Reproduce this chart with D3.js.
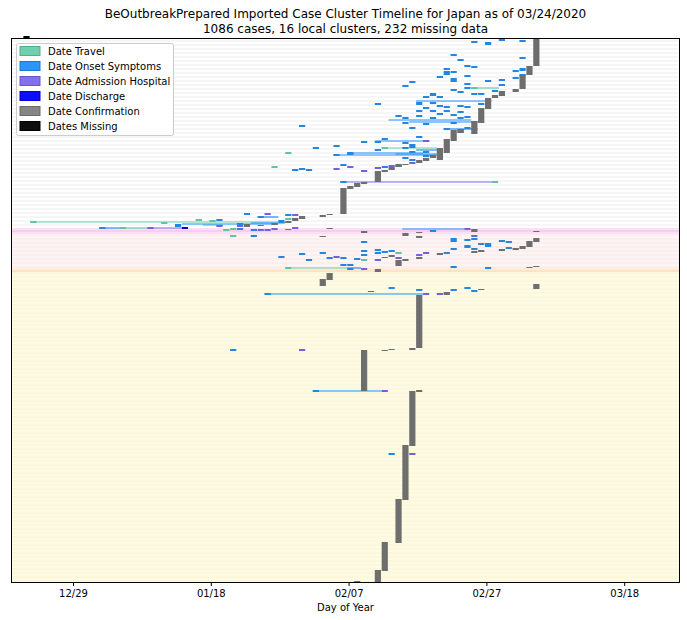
<!DOCTYPE html>
<html><head><meta charset="utf-8">
<script src="https://cdn.jsdelivr.net/npm/d3@7"></script>
<style>body{margin:0;background:#fff;} text{font-family:"DejaVu Sans",sans-serif;fill:#000;}</style>
</head><body><svg id="c" width="687" height="620"></svg>
<script>
// ---------------- DATA ----------------
const titleLines = ["BeOutbreakPrepared Imported Case Cluster Timeline for Japan as of 03/24/2020",
                    "1086 cases, 16 local clusters, 232 missing data"];
const xLabel = "Day of Year";
// x values are day-of-year 2020 (Dec 31 2019 = 0)
const xTickDays = [-2, 18, 38, 58, 78];
const xTickLabels = ["12/29", "01/18", "02/07", "02/27", "03/18"];
const totalRows = 272;                 // case rows (0 = top)
const clusterNames = ["Imported", "Cluster 1", "Cluster 2", "Cluster 3", "Cluster 4"];
const clusterStartRows = [0, 95, 98, 114.5, 117];
const legendLabels = ["Date Travel", "Date Onset Symptoms", "Date Admission Hospital",
                      "Date Discharge", "Date Confirmation", "Dates Missing"];

// confirmation blocks: [day, firstRow, lastRow]
const confirmBlocks = [
 [65,0.5,14],[64,14,18.5],[63,18.5,25.5],[62,25.5,27],[60,26.5,29],[59,28.5,30],[58,30,35.5],[57,35,42.5],
 [56,41.5,48],[54,45.5,47.5],[53,46,51.5],[52,50.5,57.5],[51,55,61],[50,58.5,60],[49,60,61.5],[48,61,62.5],
 [46,63,63.5],[45,63,64.5],[44,64.5,66],[43,66,67],[42,66.5,72],[40,72,73],[39,72.5,74.5],[38,74,75.5],
 [37,75,88],[35,88,88.5],[34,88.5,89.5],[31,89,90.5],[30,90,91.5],[29,91.5,92.5],[27,92.5,93.5],[23,93,94.5],[25,93.5,94],
 [29,95.5,96],[35,95,95.5],[40,96.5,97.5],[46,97.5,99],[48,97,97.5],[48,99,100],[56,95.5,97],[65,96.5,97],[34,99,99.5],
 [65,100,102],[64,101.5,104.5],[63,104,105.5],[62,105,106],[60,105.5,106.5],[57,106,107],[56,106.5,107.5],[51,107.5,108.5],
 [48,109.5,110.5],[46,110.5,111.5],[45,111,114],[44,108.5,109.5],[43,109.5,110],[64,114.5,115],[65,114,114.5],
 [42,115.5,117],[35,117.5,121],[34,120.5,124],[65,123,125.5],
 [52,127,128.5],[57,125.5,126],[41,126.5,127],[48,128.5,155],[40,156,176.5],[43,156,156.5],[44,155.5,156],[47,155,156],
 [48,176,177],[47,176.5,204],[46,203.5,231],[45,230.5,252.5],[43,252,266.5],[42,266,272],[39,271.5,272]
];
// single-day marks: [day, row] (one case) or [day, firstRow, rowCount]
const onsetMarks = [
 [56,2],[58,2,1.5],[60,1],[63,1.5],[53,8.5],[54,11],[55,14],[56,14.5],[63,10],
 [52,15.5],[52,16.5,2],[53,17],[55,19],[53,20,2],[51,19.5],
 [47,22],[46,24],[55,23],[53,26],[54,27],[55,25],[56,28],[57,28],[58,21.5],[60,21],[59,26.5],[60,23.5],[62,16.5],[62,20],[63,15,1.5],[63,18.5],
 [50,27.5,1.5],[48,32,1.5],[49,29.5],[50,32.5],[51,29.5],[52,34.5],[54,34],[53,38.5],[54,37],[55,34.5],[57,33],[42,33],[48,36.5],[49,35],[50,36.5],[51,34],[52,36.5],
 [45,39],[46,40],[48,39],[49,43],[50,40],[51,38],[53,42.5],[54,40],[55,39.5],[46,42.5],[47,45],[52,45.5],[54,46],[54,47],[55,45],
 [31,44],[48,49.5],[49,51.5],[43,50.5],[40,52],[42,52],[47,53.5],[46,52.5],[46,55],[47,54.5],[42,56],[47,57],[36,54],[33,55],[38,57.5],[49,57],[49,59],[46,60],[47,61],[36,58.5],[38,58],
 [32,66],[31,65.5],[30,66],[37,63.5],[43,64.5],[45,64],[37,72],
 [19,91],[22,92.5,1],[23,88],[25,89.5],[29,88.5],[28,91,1.5],[13,93,1.5],[2,95],[22,95.5],[24,96],[24,99],
 [31,108],[34,107.5],[32,111],[35,110],[37,110],[37,113.5],[28,109.5],[38,113.5],[39,110.5],[40,101.5,1],[40,106,1],[42,106],[42,107.5],[43,107],[44,106.5],[40,108.5],
 [50,96.5],[53,100,2],[55,100.5,1],[56,100.5],[57,103],[58,102.5,1],[58,104],[55,103.5,1.5],[53,105,1],[60,101.5],[61,102],[61,105],[56,105.5],[52,107,1],[53,114.5],[58,114.5,1],[38,115,1],
 [26,128],[44,125],[48,126],[53,125.5,1],[55,125],[56,126,1],[21,156],[33,176.5],[44,208]
];
const admissionMarks = [
 [26,88],[30,88.5],[19,94],[22,93.5,1],[9,95],[25,96],[26,96],[27,95.5],[30,95],[36,109.5],[42,111],[45,110],[48,108.5],[49,107.5],
 [55,95.5],[56,99],[40,115,1],[49,128],[51,128],[31,156],[43,176.5],[47,208],
 [38,64.5],[40,66.5],[42,65],[44,64],[47,62.5],[36,65.5],[50,58.5,1],[51,55.5,1.5],[49,51.5],[56,45.5],[58,31.5],[56,42]
];
const travelMarks = [
 [-8,92],[5,95],[11,92.5],[16,91],[18,91.5],[20,96],[21,95.5],[21,99],[29,90,1],[29,115],[45,107.5],[40,111],[59,72],[43,55],[56,25],[29,57.5],[27,64.5]
];
const dischargeMarks = [[14,94.5,1]];
const missingMarks = [[-9,-0.5]];
// interval lines between events: [fromDay, toDay, row]
const travelLines = [[-8,28,92],[5,9,95],[17,20,93.5],[29,38,115],[43,51,55],[56,60,25]];
const onsetLines = [[2,5,95],[14,28,93],[25,28,89.5],[24,29,92.5],[38,40,115],[26,49,128],[33,43,176.5],[46,55,95.5],
 [36,51,58.5],[45,51,58],[42,49,51.5],[48,51,56],[52,56,45.5],[44,56,41],[47,56,42],[48,58,31.5],[38,49,57.5]];
const admissionLines = [[9,14,95],[37,59,72]];

// ---------------- STYLE ----------------
const colors = {travel:"#66cdaa", onset:"#1e90ff", admission:"#7b68ee", discharge:"#0000ff", confirm:"#808080", missing:"#000000"};
const stripeColors = [["#ffffff","#f6f6f6"],["#f9cdef","#fbdff5"],["#fdeeee","#fcf5f5"],["#fde2c6","#fdecd8"],["#fdfbe6","#fbf8dc"]];
const W=687,H=620, M={l:11,r:680,t:38,b:582};

const svg = d3.select("#c");
const x = d3.scaleLinear().domain([-11.0, 86.1]).range([M.l, M.r]);
const y = d3.scaleLinear().domain([0, totalRows]).range([M.t, M.b]);

// background stripes
const rows = d3.range(totalRows);
const clusterOf = r => d3.bisectRight(clusterStartRows, r + 0.25) - 1;
svg.append("g").selectAll("rect").data(rows).join("rect")
  .attr("x", M.l).attr("width", M.r - M.l)
  .attr("y", r => y(r)).attr("height", r => y(r+1) - y(r) + 0.01)
  .attr("fill", r => stripeColors[clusterOf(r)][r % 2]);

// lines
function lines(arr, col){
  svg.append("g").selectAll("line").data(arr).join("line")
    .attr("x1", d => x(d[0]-0.2)).attr("x2", d => x(d[1]-0.2))
    .attr("y1", d => y(d[2])).attr("y2", d => y(d[2]))
    .attr("stroke", col).attr("stroke-width", 1.2);
}
lines(travelLines, colors.travel);
lines(onsetLines, colors.onset);
lines(admissionLines, colors.admission);

function marks(arr, col){
  svg.append("g").selectAll("rect").data(arr).join("rect")
    .attr("x", d => x(d[0]-0.2)).attr("width", d => x(d[0]+0.7) - x(d[0]-0.2))
    .attr("y", d => d.length > 2 ? y(d[1]) : y(d[1]-0.5))
    .attr("height", d => d.length > 2 ? y(d[1]+d[2]) - y(d[1]) : y(1) - y(0))
    .attr("fill", col);
}
marks(travelMarks, "#5fc4a0");
marks(onsetMarks, "#2486e0");
marks(admissionMarks, "#7460dc");
marks(dischargeMarks, "#0000e0");
marks(missingMarks, colors.missing);

svg.append("g").selectAll("rect").data(confirmBlocks).join("rect")
  .attr("x", d => x(d[0]-0.2)).attr("width", d => x(d[0]+0.7) - x(d[0]-0.2))
  .attr("y", d => y(d[1])).attr("height", d => Math.max(1, y(d[2]) - y(d[1])))
  .attr("fill", "#6e6e6e");

// frame
svg.append("rect").attr("x", M.l+0.5).attr("y", M.t+0.5).attr("width", M.r-M.l-1).attr("height", M.b-M.t)
  .attr("fill","none").attr("stroke","#000").attr("stroke-width",1);

// x axis
const ax = svg.append("g").attr("transform", `translate(0,${M.b+0.5})`)
  .call(d3.axisBottom(x).tickValues(xTickDays).tickFormat((d,i)=>xTickLabels[i]).tickSize(3.5).tickPadding(3.5));
ax.select(".domain").remove();
ax.selectAll("text").style("font-family","DejaVu Sans").style("font-size","10px").attr("fill","#000");
ax.selectAll("line").attr("stroke","#000");

svg.append("text").attr("x", (M.l+M.r)/2).attr("y", 611).attr("text-anchor","middle").style("font-size","10px").text(xLabel);
titleLines.forEach((t,i)=> svg.append("text").attr("x", (M.l+M.r)/2).attr("y", 18 + i*15)
  .attr("text-anchor","middle").style("font-size","12px").text(t));

// legend
const lg = svg.append("g");
lg.append("rect").attr("x",16.5).attr("y",43.5).attr("width",157).attr("height",92).attr("rx",2)
  .attr("fill","#fff").attr("fill-opacity",0.85).attr("stroke","#cccccc");
const legCols = [colors.travel, colors.onset, colors.admission, colors.discharge, colors.confirm, colors.missing];
legendLabels.forEach((lab,i)=>{
  const yy = 51 + i*15;
  lg.append("rect").attr("x",20).attr("y",yy-4.5).attr("width",20).attr("height",9)
    .attr("fill",legCols[i]).attr("fill-opacity", 0.95).attr("stroke", d3.color(legCols[i]).darker(0.5)).attr("stroke-width",1);
  lg.append("text").attr("x",48).attr("y",yy+3.5).style("font-size","10px").text(lab);
});
</script></body></html>
